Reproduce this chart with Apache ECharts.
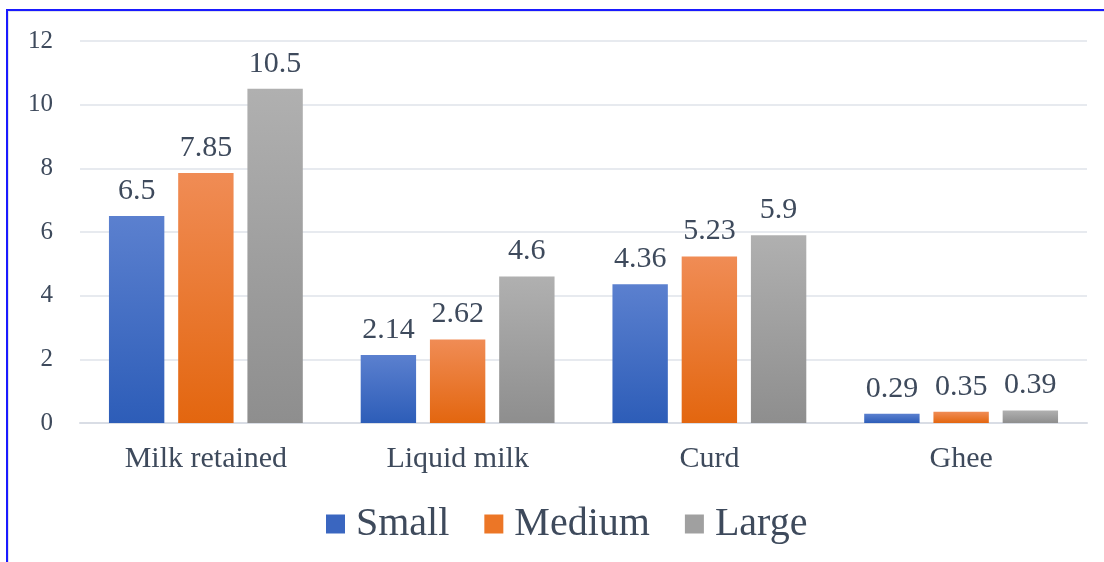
<!DOCTYPE html>
<html><head><meta charset="utf-8">
<script src="https://cdn.jsdelivr.net/npm/echarts@6/dist/echarts.min.js"></script>
<style>
html,body{margin:0;padding:0;background:#fff;width:1104px;height:562px;overflow:hidden;}
#frame{position:absolute;left:6px;top:9px;width:1098px;height:553px;border-top:2px solid #1a1aff;border-left:2px solid #1a1aff;box-sizing:border-box;}
#frame2{position:absolute;left:8px;top:11px;width:1096px;height:551px;border-top:1px solid #dfe3ea;border-left:1px solid #dfe3ea;box-sizing:border-box;}
#c{position:absolute;left:0;top:0;width:1104px;height:562px;}
</style></head>
<body>
<div id="frame"></div><div id="frame2"></div>
<div id="c"></div>
<script>
const categories = ['Milk retained', 'Liquid milk', 'Curd', 'Ghee'];
const seriesNames = ['Small', 'Medium', 'Large'];
const small = [6.5, 2.14, 4.36, 0.29];
const medium = [7.85, 2.62, 5.23, 0.35];
const large = [10.5, 4.6, 5.9, 0.39];
const yTicks = [0, 2, 4, 6, 8, 10, 12];

const textColor = '#3e4a5c';
const font = '"Liberation Serif", "Times New Roman", serif';
function grad(top, bottom) {
  return new echarts.graphic.LinearGradient(0, 0, 0, 1, [
    {offset: 0, color: top}, {offset: 1, color: bottom}
  ]);
}
const fills = [grad('#5b80cf', '#2d5db8'), grad('#f08c55', '#e3660f'), grad('#b0b0b0', '#8e8e8e')];
const legendColors = ['#3a66c0', '#ec7626', '#a0a0a0'];
const data = [small, medium, large];

const chart = echarts.init(document.getElementById('c'));
chart.setOption({
  animation: false,
  grid: {left: 80, right: 17, top: 41, bottom: 139, containLabel: false},
  legend: {
    top: 499, left: 321,
    itemWidth: 19, itemHeight: 19, itemGap: 35,
    textStyle: {fontFamily: font, fontSize: 40, color: textColor, padding: [0, 0, 0, 6]},
    data: seriesNames.map((n, i) => ({name: n, icon: 'rect', itemStyle: {color: legendColors[i]}}))
  },
  xAxis: {
    type: 'category', data: categories,
    axisLine: {lineStyle: {color: '#d9dde5', width: 2}},
    axisTick: {show: false},
    axisLabel: {fontFamily: font, fontSize: 30, color: textColor, margin: 21}
  },
  yAxis: {
    type: 'value', min: yTicks[0], max: yTicks[yTicks.length - 1], interval: 2,
    axisLine: {show: false}, axisTick: {show: false},
    axisLabel: {fontFamily: font, fontSize: 25, color: textColor, margin: 27},
    splitLine: {lineStyle: {color: '#dfe3ea', width: 1.5}}
  },
  series: seriesNames.map((n, i) => ({
    name: n, type: 'bar', data: data[i],
    barGap: '25%', barCategoryGap: '23%',
    itemStyle: {color: fills[i]},
    label: {show: true, position: 'top', distance: 10, fontFamily: font, fontSize: 30, color: textColor}
  }))
});
</script>
</body></html>
